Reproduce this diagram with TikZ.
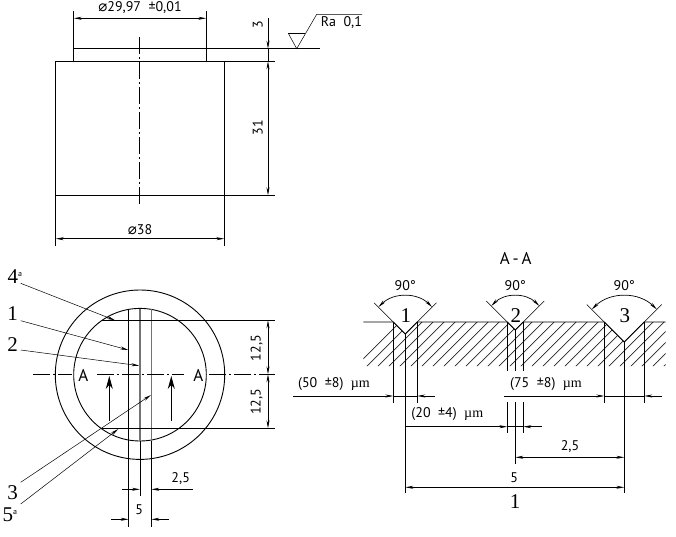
\documentclass[tikz,border=0pt]{standalone}
\usepackage{fontspec}
\setmainfont{Liberation Serif}
\newfontfamily\drawfont{PT Sans}
\newfontfamily\symfont{DejaVu Sans}
\usetikzlibrary{arrows.meta}
\begin{document}
\begin{tikzpicture}[
    x=1pt, y=-1pt,
    >={Stealth[length=8pt,width=3pt]},
    edge/.style={line width=0.9pt},
    grayedge/.style={line width=1.2pt, black!55},
    thin line/.style={line width=0.5pt},
    dim/.style={line width=0.7pt},
    leader/.style={line width=0.5pt, ->},
    centerline/.style={line width=0.7pt, dash pattern=on 17pt off 3pt on 2pt off 3pt},
    viewarrow/.style={line width=0.9pt, -{Stealth[length=13pt,width=7pt]}},
    lbl/.style={font=\drawfont\fontsize{14}{14}\selectfont, inner sep=0pt},
    biglbl/.style={font=\drawfont\fontsize{17}{17}\selectfont, inner sep=0pt},
    num/.style={font=\fontsize{21}{21}\selectfont, inner sep=0pt}
]
\useasboundingbox (0,0) rectangle (676,537);
\fill[white] (0,0) rectangle (676,537);

% side view
\draw[edge] (73.7,61.3) -- (73.7,48.7) -- (206.3,48.7) -- (206.3,61.3);
\draw[edge] (55.7,61.3) rectangle (224.3,195.3);
\draw[centerline] (139.3,37.3) -- (139.3,204.3);
\draw[dim] (73.7,48.7) -- (73.7,11);
\draw[dim] (206.3,48.7) -- (206.3,11);
\draw[dim] (206.3,48.7) -- (275,48.7);
\draw[dim] (224.3,61.3) -- (275,61.3);
\draw[dim] (224.3,195.3) -- (275,195.3);
\draw[dim] (55.7,195.3) -- (55.7,245.7);
\draw[dim] (224.3,195.3) -- (224.3,245.7);
\draw[dim,<->] (73.7,18.3) -- (206.3,18.3);
\draw[dim,<->] (55.7,238.7) -- (224.3,238.7);
\draw[dim,<->] (268,61.3) -- (268,195.3);
\draw[dim,->] (268,18) -- (268,48.7);
\draw[dim] (268,48.7) -- (268,61.3);
\node[lbl] (dtop) at (140,8) {{\symfont\fontsize{15}{15}\selectfont ⌀}29,97 ~±0,01};
\node[lbl] (dbody) at (140,229.3) {{\symfont\fontsize{15}{15}\selectfont ⌀}38};
\node[lbl,rotate=90] (hthree) at (257.7,25) {3};
\node[lbl,rotate=90] (hbody) at (257.7,127.7) {31};

% surface mark
\draw[thin line] (275,48.7) -- (320,48.7);
\draw[thin line] (288.3,33.3) -- (305.3,33.3);
\draw[thin line] (288.3,33.3) -- (296.7,48.7) -- (316.7,14.3) -- (362,14.3);
\node[lbl,anchor=west] (rough) at (320.7,23) {Ra ~0,1};

% plan view
\draw[edge] (140,374.7) circle[radius=84.7pt];
\draw[edge] (140,374.7) circle[radius=66.3pt];
\draw[edge] (128.7,308.7) -- (128.7,526.7);
\draw[grayedge] (140,308.7) -- (140,440.7);
\draw[grayedge] (151.3,308.7) -- (151.3,440.7);
\draw[dim] (140,440.7) -- (140,496);
\draw[dim] (151.3,440.7) -- (151.3,526.7);
\draw[edge] (101.7,320.3) -- (275,320.3);
\draw[edge] (101.7,428.3) -- (275,428.3);
\draw[centerline] (33.3,374.3) -- (72,374.3);
\draw[centerline] (97.3,374.3) -- (184,374.3);
\draw[centerline] (209.3,374.3) -- (275,374.3);
\node[biglbl] (aleft) at (83.3,375.5) {A};
\node[biglbl] (aright) at (198.3,375.5) {A};
\draw[viewarrow] (109.3,420.7) -- (109.3,376);
\draw[viewarrow] (171.3,420.7) -- (171.3,376);
\draw[dim,<->] (268,320.3) -- (268,374.3);
\draw[dim,<->] (268,374.3) -- (268,428.3);
\node[lbl,rotate=90] (hupper) at (256.7,348) {12,5};
\node[lbl,rotate=90] (hlower) at (256.7,401.7) {12,5};
\draw[dim,->] (122.3,489.3) -- (140,489.3);
\draw[dim,->] (193,489.3) -- (151.3,489.3);
\draw[dim,->] (111,519.3) -- (128.7,519.3);
\draw[dim,->] (169,519.3) -- (151.3,519.3);
\node[lbl] (wsmall) at (180.7,479) {2,5};
\node[lbl] (wbig) at (139.3,510) {5};

% leaders
\node[num,anchor=west] (nfour) at (7.5,277) {4\textsuperscript{\fontsize{8}{8}\selectfont\drawfont a}};
\node[num] (none) at (12.7,313.5) {1};
\node[num] (ntwo) at (12.7,345) {2};
\node[num] (nthree) at (12.7,493) {3};
\node[num,anchor=west] (nfive) at (2.5,515) {5\textsuperscript{\fontsize{8}{8}\selectfont\drawfont a}};
\draw[leader] (20.7,283.3) -- (115,320.3);
\draw[leader] (20.7,320.7) -- (128.3,350);
\draw[leader] (20.7,350) -- (139.3,365.7);
\draw[leader] (20.7,482.3) -- (151,395);
\draw[leader] (20.7,504) -- (118.3,429);

% section A-A
\node[biglbl] (sect) at (515.7,258.3) {A\,-\,A};
\begin{scope}
\clip (363.3,322) -- (393.3,322) -- (405.3,334) -- (417.3,322) -- (507.3,322) -- (515.3,330)
    -- (523.3,322) -- (604.3,322) -- (624.3,342) -- (644.3,322) -- (665.7,322)
    -- (665.7,366) -- (363.3,366) -- cycle;
\foreach \i in {0,...,28}
    \draw[dim, black!85] (355+11*\i,367) -- ++(45,-45);
\end{scope}
\draw[edge] (363.3,322) -- (393.3,322) -- (405.3,334) -- (417.3,322) -- (507.3,322) -- (515.3,330)
    -- (523.3,322) -- (604.3,322) -- (624.3,342) -- (644.3,322) -- (665.7,322);
\foreach \x/\y/\r/\e/\n in {405.3/334/38/44/1, 515.3/330/34/41/2, 624.3/342/46/53/3} {
    \draw[thin line] (\x,\y) -- ++(45:\e pt);
    \draw[thin line] (\x,\y) -- ++(135:\e pt);
    \draw[dim,<->] (\x,\y) ++(45:\r pt) arc[start angle=45, end angle=135, radius=\r pt];
    \node[lbl] at (\x,286) {90°};
    \node[num] at (\x+0.5,316) {\n};
}
% extension lines
\draw[dim] (393.3,322) -- (393.3,403.3);
\draw[dim] (417.3,322) -- (417.3,403.3);
\draw[dim] (405.3,334) -- (405.3,493.3);
\draw[dim] (507.3,322) -- (507.3,370.7);
\draw[dim] (515.3,330) -- (515.3,370.7);
\draw[dim] (523.3,322) -- (523.3,370.7);
\draw[dim] (507.3,402.3) -- (507.3,433.3);
\draw[dim] (515.3,402.3) -- (515.3,464);
\draw[dim] (523.3,402.3) -- (523.3,433.3);
\draw[dim] (604.3,322) -- (604.3,403.3);
\draw[dim] (644.3,322) -- (644.3,403.3);
\draw[dim] (624.3,342) -- (624.3,493.3);
% dimensions
\draw[dim,->] (293.3,396) -- (393.3,396);
\draw[dim,->] (435,396) -- (417.3,396);
\draw[dim] (393.3,396) -- (417.3,396);
\draw[dim,->] (504,396) -- (604.3,396);
\draw[dim,->] (662.3,396) -- (644.3,396);
\draw[dim] (604.3,396) -- (644.3,396);
\draw[dim,->] (405.3,426.7) -- (507.3,426.7);
\draw[dim,->] (542,426.7) -- (523.3,426.7);
\draw[dim] (507.3,426.7) -- (523.3,426.7);
\draw[dim,<->] (515.3,457.3) -- (624.3,457.3);
\draw[dim,<->] (405.3,487.3) -- (624.3,487.3);
\node[lbl] (tfifty) at (334,384.3) {(50 ~±8) ~\rmfamily µm};
\node[lbl] (tseventy) at (546,384.3) {(75 ~±8) ~\rmfamily µm};
\node[lbl] (ttwenty) at (447.3,414.3) {(20 ~±4) ~\rmfamily µm};
\node[lbl] (tsmall) at (570,446.7) {2,5};
\node[lbl] (tbig) at (514.3,477.7) {5};
\node[num] (nsect) at (515,501.7) {1};
\end{tikzpicture}
\end{document}
